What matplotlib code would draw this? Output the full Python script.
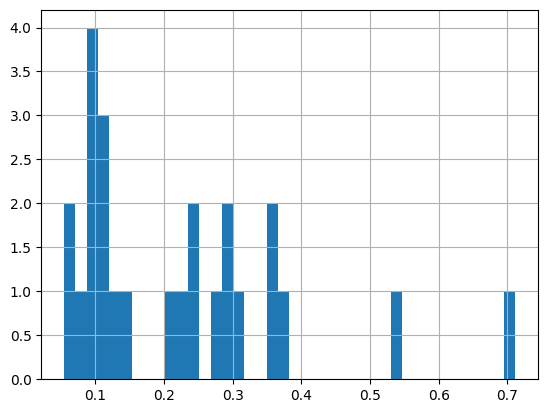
import numpy as np
import matplotlib
matplotlib.use("Agg")
import matplotlib.pyplot as plt

# histogram of 40 bins
bin_start = 0.0544
bin_end = 0.7110
n_bins = 40
counts = [2, 1, 4, 3, 1, 1, 0, 0, 0, 1,
          1, 2, 0, 1, 2, 1, 0, 0, 2, 1,
          0, 0, 0, 0, 0, 0, 0, 0, 0, 1,
          0, 0, 0, 0, 0, 0, 0, 0, 0, 1]

edges = np.linspace(bin_start, bin_end, n_bins + 1)

fig = plt.figure(figsize=(5.47, 4.13), dpi=100)
ax = fig.add_axes([0.0757, 0.0823, 0.9071, 0.8935])
ax.hist(edges[:-1], bins=edges, weights=counts, color="#1f77b4")
ax.grid(True)
ax.set_yticks(np.arange(0, 4.01, 0.5))
fig.savefig("out.png", dpi=100)
